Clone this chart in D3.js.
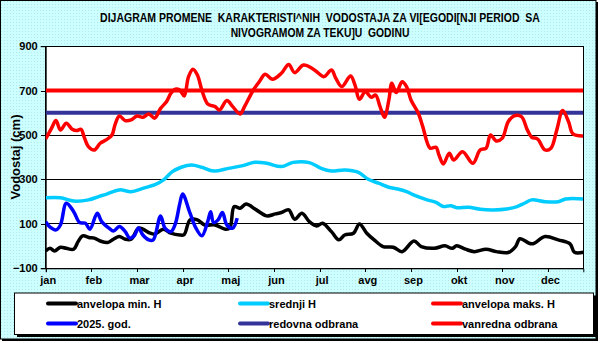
<!DOCTYPE html>
<html>
<head>
<meta charset="utf-8">
<script src="https://cdn.jsdelivr.net/npm/d3@7/dist/d3.min.js"></script>
<style>
  html, body { margin: 0; padding: 0; background: #ffffff; }
  svg { display: block; }
  text { font-family: "Liberation Sans", Arial, sans-serif; font-weight: bold; fill: #000; }
</style>
</head>
<body>
<svg id="chart" width="600" height="343"></svg>
<script>
// ---------------- DATA ----------------
const months = ["jan","feb","mar","apr","maj","jun","jul","avg","sep","okt","nov","dec"];
const monthTickDays = [0,31,62,93,124,155,186,217,248,279,310,341];
const yTicks = [-100,100,300,500,700,900];

const titleLines = [
  "DIJAGRAM PROMENE  KARAKTERISTI^NIH  VODOSTAJA ZA VI[EGODI[NJI PERIOD  SA",
  "NIVOGRAMOM ZA TEKU]U  GODINU"
];
const yTitle = "Vodostaj (cm)";

// anvelopa min. H  (day of year, cm)
const minDays = [0,3,6,10,14,19,22,25,30,33,37,42,46,50,54,58,63,66,71,74,80,85,91,94,98,103,108,115,122,125,128,132,136,143,150,156,160,165,169,174,179,184,188,194,199,203,209,213,218,223,229,236,242,250,255,264,271,276,279,285,291,299,306,314,319,322,330,339,348,356,359,365];
const minVals = [-22,-10,-22,-5,-10,-14,20,46,38,36,23,16,31,43,31,31,81,76,58,54,76,58,50,52,118,118,95,95,76,81,178,170,189,163,136,145,151,163,121,148,110,91,103,65,28,50,58,100,58,28,-2,-5,-25,23,-2,-10,1,-10,1,-14,-25,-14,-25,-29,-2,33,10,43,28,10,-28,-28];

// srednji H
const meanDays = [0,10,19,29,36,41,50,58,66,75,80,86,92,99,106,114,124,133,142,150,160,168,179,187,194,203,212,219,226,233,239,245,251,259,265,270,275,279,287,295,304,313,320,325,330,339,348,353,365];
const meanVals = [218,218,203,208,223,233,253,245,260,279,298,335,355,365,355,338,350,361,377,373,358,377,376,350,338,343,333,301,283,265,257,245,227,208,197,178,182,173,175,166,163,167,178,193,208,200,200,212,212];

// anvelopa maks. H
const maxDays = [0,4,7,10,14,18,21,24,26,29,33,37,41,45,47,50,54,58,62,66,70,74,78,82,85,88,91,94,97,100,103,106,110,115,118,123,127,132,135,141,145,149,154,160,165,169,175,181,184,189,194,197,201,207,210,213,217,221,224,227,230,233,235,238,242,245,248,253,256,261,265,267,270,274,277,283,290,295,299,302,306,310,314,318,323,327,330,334,339,343,347,351,355,358,365];
const maxVals = [482,531,565,523,553,526,520,526,493,448,433,463,478,500,545,586,565,568,586,580,595,576,620,650,688,707,703,676,763,796,770,703,640,628,613,655,628,595,628,703,740,774,751,778,818,781,815,800,785,763,793,755,718,766,725,661,695,670,680,628,580,658,733,691,740,718,658,598,538,441,445,410,370,418,388,425,373,433,441,500,473,486,560,586,583,523,490,482,433,441,523,610,560,505,496];

// 2025. god.
const curDays = [0,3,7,10,14,19,23,27,30,35,38,43,46,50,54,57,60,63,66,70,73,78,81,85,88,91,93,98,102,106,110,112,114,117,120,123,127,130];
const curVals = [110,85,73,95,193,155,106,103,76,148,110,81,68,88,65,36,46,81,50,28,28,136,81,65,100,190,235,148,81,46,110,155,106,118,151,95,81,126];

// defence levels
const redovnaLevel = 600;
const vanrednaLevel = 700;
const yearDays = [0,365];

// ---------------- CHART ----------------
const svg = d3.select("#chart");
const plot = {left: 45.7, right: 583.3, top: 46.2, bottom: 268.3};

const defs = svg.append("defs");
const pat = defs.append("pattern").attr("id","dots").attr("patternUnits","userSpaceOnUse")
  .attr("width",3).attr("height",3);
pat.append("rect").attr("width",3).attr("height",3).attr("fill","#ccffff");
pat.append("rect").attr("x",1).attr("y",1).attr("width",1).attr("height",1).attr("fill","#b4e6ea");
defs.append("clipPath").attr("id","plotClip").append("rect")
  .attr("x",plot.left).attr("y",plot.top - 4)
  .attr("width",plot.right-plot.left).attr("height",plot.bottom-plot.top+8);

// outer frame with shadow
svg.append("rect").attr("x",2).attr("y",2).attr("width",596).attr("height",339).attr("fill","#000");
svg.append("rect").attr("x",0.5).attr("y",0.5).attr("width",595.5).attr("height",338.5)
  .attr("fill","url(#dots)").attr("stroke","#000").attr("stroke-width",1);

// title (condensed horizontally to the reference width)
const titleWidths = [440, 179];
const titleBase = [22, 37];
titleLines.forEach((t,i)=>{
  const g = svg.append("g");
  const tx = g.append("text").attr("x",0).attr("y",0).attr("text-anchor","middle")
    .attr("font-size",12).style("white-space","pre").text(t);
  const len = tx.node().getComputedTextLength() || titleWidths[i];
  const sx = Math.min(1, titleWidths[i] / len);
  g.attr("transform",`translate(320,${titleBase[i]}) scale(${sx},1)`);
});

const x = d3.scaleLinear().domain([0,365]).range([plot.left, plot.right]);
const y = d3.scaleLinear().domain([-100,900]).range([plot.bottom, plot.top]);

// plot area
svg.append("rect").attr("x",plot.left).attr("y",plot.top)
  .attr("width",plot.right-plot.left).attr("height",plot.bottom-plot.top).attr("fill","#fff");

// gridlines
svg.append("g").selectAll("line").data(yTicks.filter(v=>v>-100)).join("line")
  .attr("x1",plot.left).attr("x2",plot.right)
  .attr("y1",d=>y(d)).attr("y2",d=>y(d))
  .attr("stroke","#000").attr("stroke-width",1).attr("shape-rendering","crispEdges");

svg.append("rect").attr("x",plot.left).attr("y",plot.top)
  .attr("width",plot.right-plot.left).attr("height",plot.bottom-plot.top)
  .attr("fill","none").attr("stroke","#000").attr("stroke-width",1).attr("shape-rendering","crispEdges");

// axes
const yAxis = svg.append("g").attr("transform",`translate(${plot.left},0)`)
  .call(d3.axisLeft(y).tickValues(yTicks).tickSize(5).tickPadding(3).tickFormat(d3.format("d")));
const xAxis = svg.append("g").attr("transform",`translate(0,${plot.bottom})`)
  .call(d3.axisBottom(x).tickValues(monthTickDays).tickSize(4).tickPadding(4)
    .tickFormat((d,i)=>months[i]));
[xAxis,yAxis].forEach(g=>{
  g.select(".domain").attr("stroke","#000").attr("stroke-width",1);
  g.selectAll(".tick line").attr("stroke","#000").attr("shape-rendering","crispEdges");
  g.selectAll(".tick text").attr("font-size",11).attr("fill","#000")
    .attr("font-family","'Liberation Sans', Arial, sans-serif").attr("font-weight","bold");
});
xAxis.selectAll(".tick text").attr("dx","2");

// y title
svg.append("text").attr("transform","translate(20,157) rotate(-90)")
  .attr("text-anchor","middle").attr("font-size",13).text(yTitle);

// series
const series = [
  {name:"redovna odbrana", days:yearDays, vals:[redovnaLevel,redovnaLevel], color:"#333399", w:4, curve:d3.curveLinear},
  {name:"vanredna odbrana", days:yearDays, vals:[vanrednaLevel,vanrednaLevel], color:"#ff0000", w:4, curve:d3.curveLinear},
  {name:"anvelopa min. H", days:minDays, vals:minVals, color:"#000000", w:3.5, curve:d3.curveCatmullRom},
  {name:"srednji H", days:meanDays, vals:meanVals, color:"#00ccff", w:3.5, curve:d3.curveCatmullRom},
  {name:"anvelopa maks. H", days:maxDays, vals:maxVals, color:"#ff0000", w:3.5, curve:d3.curveCatmullRom},
  {name:"2025. god.", days:curDays, vals:curVals, color:"#0000ff", w:3.5, curve:d3.curveCatmullRom}
];
const gLines = svg.append("g").attr("clip-path","url(#plotClip)");
series.forEach(s=>{
  const pts = s.days.map((d,i)=>[d, s.vals[i]]);
  const line = d3.line().x(p=>x(p[0])).y(p=>y(p[1])).curve(s.curve);
  gLines.append("path").attr("d",line(pts)).attr("fill","none")
    .attr("stroke",s.color).attr("stroke-width",s.w)
    .attr("stroke-linejoin","round").attr("stroke-linecap","butt");
});

// legend
const lg = {x:14, y:292.5, w:579, h:41.5};
svg.append("rect").attr("x",lg.x+3).attr("y",lg.y+3).attr("width",lg.w).attr("height",lg.h).attr("fill","#000");
svg.append("rect").attr("x",lg.x+0.5).attr("y",lg.y+0.5).attr("width",lg.w).attr("height",lg.h)
  .attr("fill","#fff").attr("stroke","#000").attr("stroke-width",1);
const legendOrder = ["anvelopa min. H","srednji H","anvelopa maks. H","2025. god.","redovna odbrana","vanredna odbrana"];
const colX = [48, 240, 433];
const rowY = [303.5, 323.5];
legendOrder.forEach((nm,i)=>{
  const s = series.find(q=>q.name===nm);
  const cx = colX[i%3], cy = rowY[Math.floor(i/3)];
  svg.append("line").attr("x1",cx).attr("x2",cx+28).attr("y1",cy).attr("y2",cy)
    .attr("stroke",s.color).attr("stroke-width",4).attr("stroke-linecap","round");
  svg.append("text").attr("x",cx+29).attr("y",cy+4).attr("font-size",11).text(nm);
});
</script>
</body>
</html>
